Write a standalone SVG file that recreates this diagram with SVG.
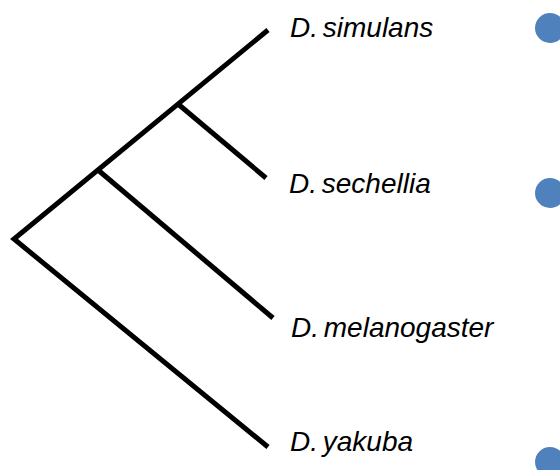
<svg xmlns="http://www.w3.org/2000/svg" width="560" height="470" viewBox="0 0 560 470">
<style>
.br{fill:none;stroke:#000;stroke-width:5;stroke-linejoin:miter;stroke-linecap:butt}
.lb{font-family:"Liberation Sans",Arial,sans-serif;font-style:italic;font-size:28px;word-spacing:-3px;fill:#000}
.dot{fill:#4F81BD}
</style>
<rect width="560" height="470" fill="#fff"/>
<g id="connectors">
<path class="br" d="M268,30 L14,239 L268,447"/>
<path class="br" d="M178,104 L266,178"/>
<path class="br" d="M98,170 L273,318"/>
</g>
<g id="n-simulans"><text class="lb" x="290" y="37">D. simulans</text></g>
<g id="n-sechellia"><text class="lb" x="289" y="193">D. sechellia</text></g>
<g id="n-melanogaster"><text class="lb" x="291" y="337">D. melanogaster</text></g>
<g id="n-yakuba"><text class="lb" x="290" y="451">D. yakuba</text></g>
<g id="dot1"><circle class="dot" cx="550" cy="28" r="15"/></g>
<g id="dot2"><circle class="dot" cx="550" cy="193" r="15"/></g>
<g id="dot3"><circle class="dot" cx="550" cy="462" r="15"/></g>
</svg>
